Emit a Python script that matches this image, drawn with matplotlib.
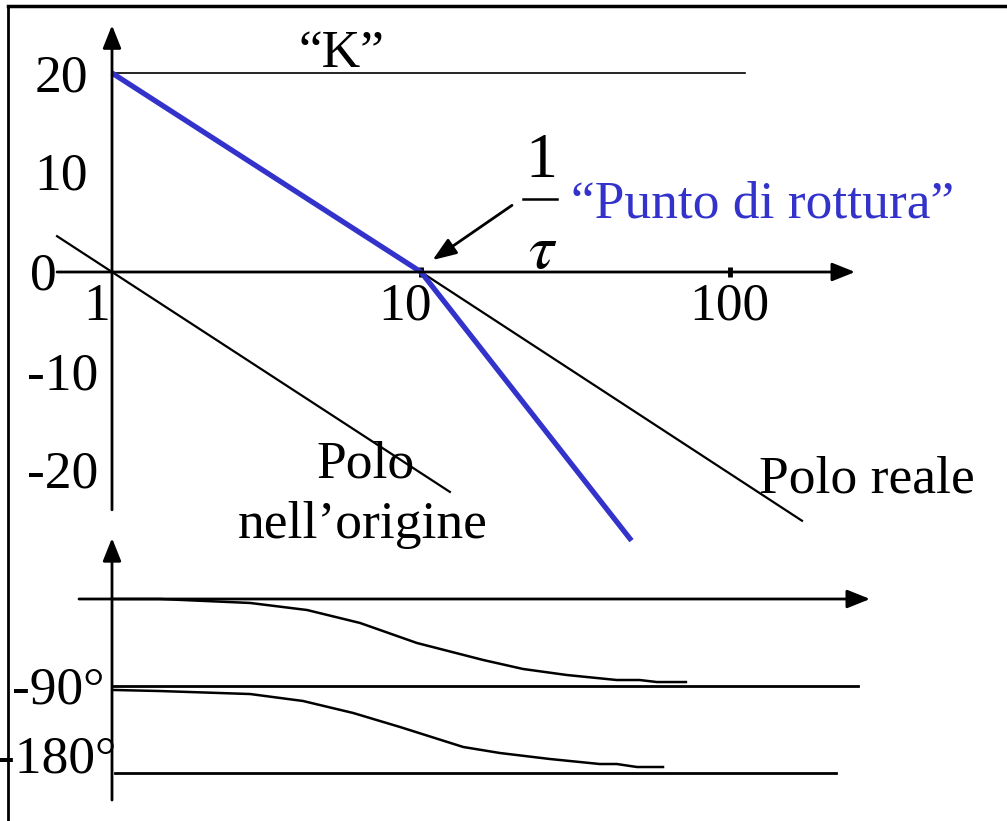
import numpy as np
import matplotlib
matplotlib.use("Agg")
from matplotlib import pyplot as plt
from matplotlib.lines import Line2D

W, H = 1007, 821

# asymptotic magnitude (dB) vs omega
omega_total = [1, 10, 48]
db_total = [20, 0, -27]
omega_k = [1, 112]
db_k = [20, 20]
omega_origin = [0.664, 12.4]
db_origin = [3.6, -22.1]
omega_real = [10, 171]
db_real = [0, -25]
mag_ticks = [10, 100]

# phase (deg) vs omega
omega_ph1 = [1, 1.43, 2.8, 4.28, 6.35, 9.7, 15.9, 21.4, 29.6, 43, 51, 58, 72]
phase_real = [0, 0, -4.1, -11.4, -24.8, -45.5, -63.1, -72.4, -78.6, -83.8, -83.8, -85.9, -85.9]
omega_ph2 = [1.01, 1.43, 2.8, 4.15, 6.03, 8.55, 13.7, 18.0, 26.1, 37.9, 43, 50, 60.7]
phase_total = [-94.1, -95.2, -98.3, -105.5, -117.9, -132.4, -153.1, -159.3, -165.5, -170.7, -170.7, -173.8, -173.8]
phase_refs = [-90, -180]

BLUE = "#3333cc"
FONT = "Liberation Serif"
FS = 38.5

fig = plt.figure(figsize=(W / 100, H / 100), dpi=100)
fig.patch.set_facecolor("white")

# both panels share the whole canvas, one decade = 309 px
xlim = (10 ** (-112 / 309), 10 ** ((W - 112) / 309))
ax = fig.add_axes([0, 0, 1, 1])
ax.set_xscale("log")
ax.set_xlim(*xlim)
ax.set_ylim((272 - H) / 9.95, 272 / 9.95)
ax.axis("off")

ax2 = fig.add_axes([0, 0, 1, 1])
ax2.set_xscale("log")
ax2.set_xlim(*xlim)
ax2.set_ylim(-(H - 599) / 0.9667, 599 / 0.9667)
ax2.axis("off")
ax2.patch.set_alpha(0)

arrow = dict(arrowstyle="-|>,head_length=0.7,head_width=0.28", color="black",
             lw=2, mutation_scale=20, shrinkA=0, shrinkB=0)

# magnitude axes
ax.annotate("", xy=(1, 24.8), xytext=(1, -23.9), arrowprops=arrow)
ax.annotate("", xy=(254, 0), xytext=(0.664, 0), arrowprops=arrow)
for t in mag_ticks:
    ax.plot([t, t], [-0.5, 0.5], color="black", lw=3.5, solid_capstyle="butt")

ax.plot(omega_k, db_k, color="black", lw=1.2)
ax.plot(omega_origin, db_origin, color="black", lw=1.6)
ax.plot(omega_real, db_real, color="black", lw=1.6)
ax.plot(omega_total, db_total, color=BLUE, lw=3.8, solid_capstyle="butt")

# pointer to the break frequency
ax.annotate("", xy=(10.9, 1.2), xytext=(19.7, 6.7),
            arrowprops=dict(arrowstyle="-|>,head_length=0.8,head_width=0.3",
                            color="black", lw=2, mutation_scale=18,
                            shrinkA=0, shrinkB=0))

# phase axes
ax2.annotate("", xy=(1, 63), xytext=(1, -208), arrowprops=arrow)
ax2.annotate("", xy=(284, 0), xytext=(0.782, 0), arrowprops=arrow)
ax2.plot([1.01, 259], [phase_refs[0]] * 2, color="black", lw=2)
ax2.plot([1.02, 220], [phase_refs[1]] * 2, color="black", lw=2)
ax2.plot(omega_ph1, phase_real, color="black", lw=1.8)
ax2.plot(omega_ph2, phase_total, color="black", lw=1.8)

# frame on top and left
fig.add_artist(Line2D([8 / W, 1], [1 - 6 / H, 1 - 6 / H], color="black", lw=2.5))
fig.add_artist(Line2D([8 / W, 8 / W], [0, 1 - 6 / H], color="black", lw=2))


def label(x, y, s, ha="left", size=FS, color="black", **kw):
    fig.text(x / W, 1 - y / H, s, ha=ha, va="baseline", fontsize=size,
             color=color, family=FONT, **kw)


label(88, 92, "20", ha="right")
label(88, 189, "10", ha="right")
label(57, 289, "0", ha="right")
label(97, 320, "1", ha="center")
label(405, 320, "10", ha="center")
label(729, 320, "100", ha="center")
label(98, 389, "-10", ha="right")
label(98, 487, "-20", ha="right")

label(341, 67, "\u201cK\u201d", ha="center")
label(541, 177, "1", ha="center", size=46)
fig.add_artist(Line2D([523 / W, 557 / W], [1 - 199 / H] * 2, color="black", lw=1.8))
fig.text(543 / W, 1 - 250 / H, r"$\tau$", ha="center", va="center", fontsize=46,
         math_fontfamily="stix")
label(571, 218, "\u201cPunto di rottura\u201d", color=BLUE)

label(366, 477, "Polo", ha="center")
label(363, 538, "nell\u2019origine", ha="center")
label(867, 492, "Polo reale", ha="center")

label(104, 703, "-90\u00b0", ha="right")
label(116, 772, "-180\u00b0", ha="right")

fig.savefig("out.png", dpi=100)
